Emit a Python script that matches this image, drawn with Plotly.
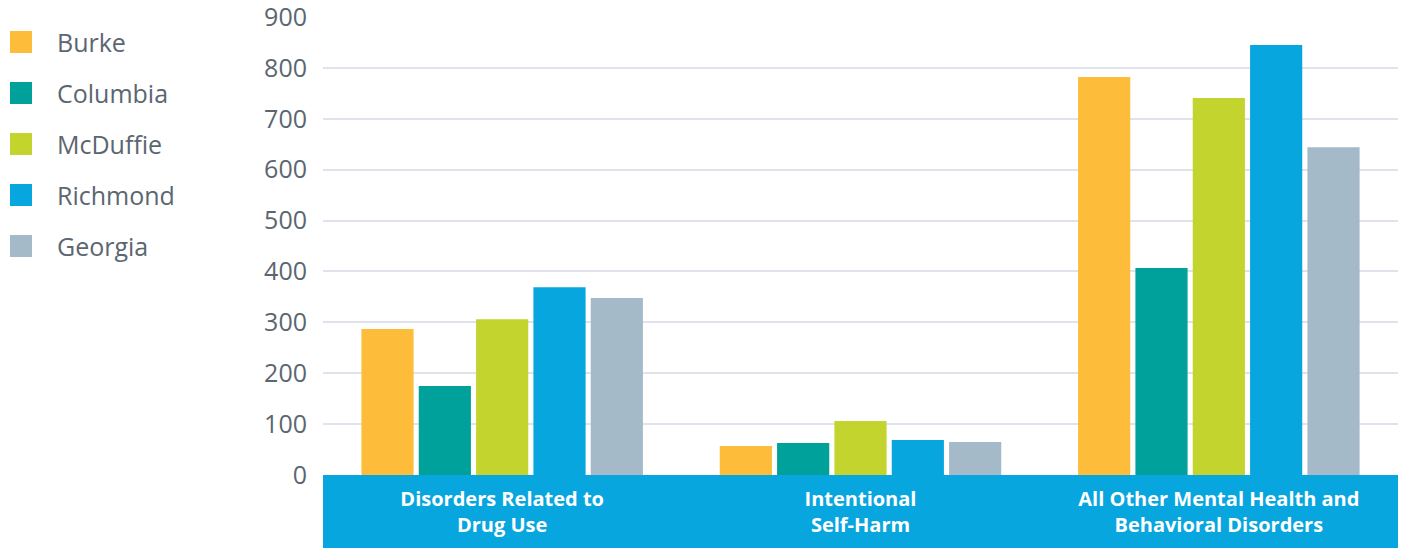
import plotly.graph_objects as go

categories = ["Disorders Related to<br>Drug Use", "Intentional<br>Self-Harm",
              "All Other Mental Health and<br>Behavioral Disorders"]
series_names = ["Burke", "Columbia", "McDuffie", "Richmond", "Georgia"]
burke = [287, 57, 782]
columbia = [175, 63, 407]
mcduffie = [306, 106, 741]
richmond = [369, 69, 845]
georgia = [348, 65, 644]
tick_values = [0, 100, 200, 300, 400, 500, 600, 700, 800, 900]

values = [burke, columbia, mcduffie, richmond, georgia]
colors = ["#FDBD3A", "#00A19B", "#C3D42F", "#08A6DF", "#A5BAC8"]
band_color = "#08A6DF"
text_gray = "#5B6670"
FONT = "Open Sans"

W, H = 1404, 548
ML, MR, MT, MB = 323, 6, 17, 73
PW = W - ML - MR
PH = H - MT - MB

fig = go.Figure()
for name, vals, col in zip(series_names, values, colors):
    fig.add_trace(go.Bar(x=categories, y=vals, name=name, marker_color=col,
                         marker_line_width=0, showlegend=False))

shapes = [dict(type="rect", xref="paper", yref="paper", x0=0, x1=1,
               y0=-(MB + 5) / PH, y1=0, fillcolor=band_color, line_width=0,
               layer="below")]
annotations = []
for i, (name, col) in enumerate(zip(series_names, colors)):
    cy = 42 + i * 51
    yc = (H - MB - cy) / PH
    shapes.append(dict(type="rect", xref="paper", yref="paper",
                       x0=(10 - ML) / PW, x1=(32 - ML) / PW,
                       y0=yc - 11 / PH, y1=yc + 11 / PH,
                       fillcolor=col, line_width=0))
    annotations.append(dict(text=name, xref="paper", yref="paper",
                            x=(55 - ML) / PW, y=yc, xanchor="left", yanchor="middle",
                            showarrow=False, font=dict(family=FONT, size=25, color=text_gray)))

fig.update_layout(
    width=W, height=H,
    margin=dict(l=ML, r=MR, t=MT, b=MB, autoexpand=False),
    paper_bgcolor="white", plot_bgcolor="white",
    barmode="group", bargap=0.2, bargroupgap=0.09,
    shapes=shapes, annotations=annotations,
    showlegend=False,
    xaxis=dict(showgrid=False, showline=False, zeroline=False, automargin=False,
               tickfont=dict(family=FONT, size=20, color="white", weight="bold"),
               ticks="", ticklabelstandoff=10),
    yaxis=dict(range=[0, 900], tickvals=tick_values, showgrid=True, automargin=False,
               gridcolor="#E0E3EC", gridwidth=2, zeroline=False, showline=False,
               tickfont=dict(family=FONT, size=25, color=text_gray),
               ticklabeloverflow="allow",
               ticks="", ticklabelstandoff=15),
)

fig.write_html("out.html")
